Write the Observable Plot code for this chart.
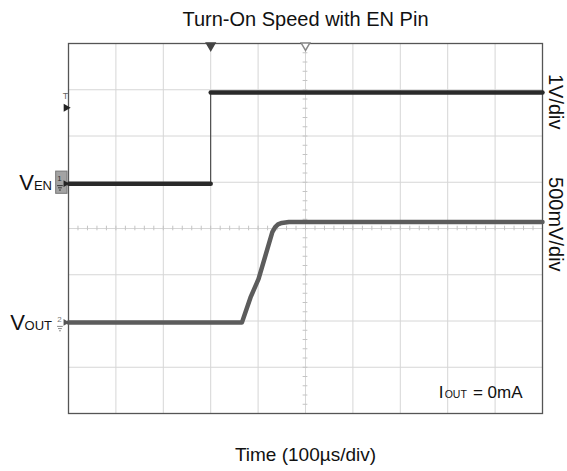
<!DOCTYPE html>
<html><head><meta charset="utf-8">
<script src="https://cdn.jsdelivr.net/npm/d3@7"></script>
<script src="https://cdn.jsdelivr.net/npm/@observablehq/plot@0.6"></script>
<style>body{margin:0;background:#fff;}</style>
</head><body><div id="chart"></div>
<script>
// ---- text ----
const title = "Turn-On Speed with EN Pin";
const xLabel = "Time (100µs/div)";
const enScaleLabel = "1V/div";
const voutScaleLabel = "500mV/div";
const ioutLabel = ["I", "OUT", "= 0mA"];

// ---- scope grid (time in µs, 100 µs/div; vertical in divisions) ----
const xGrid = [-300, -200, -100, 0, 100, 200, 300, 400, 500, 600, 700];
const yGrid = [0, 1, 2, 3, 4, 5, 6, 7, 8];
const xCenter = 200, yCenter = 4;
const xMinor = d3.range(-300, 701, 20);
const yMinor = d3.range(0, 8.01, 0.2);

// ---- channel 1: EN (1 V/div) ----
const enTime = [-300, 0, 0, 700];
const enVolt = [0, 0, 1.97, 1.97];
const enVPerDiv = 1, enOffset = 4.97;

// ---- channel 2: VOUT (500 mV/div) ----
const voutTime = [-300, 66, 84, 101, 130, 136, 142, 150, 165, 700];
const voutVolt = [0, 0, 0.27, 0.47, 0.975, 1.03, 1.06, 1.075, 1.085, 1.085];
const voutVPerDiv = 0.5, voutOffset = 1.97;

// trigger
const triggerTime = 0, triggerLevelDiv = 6.61;

const en = enTime.map((t, i) => ({t, v: enVolt[i]}));
const vout = voutTime.map((t, i) => ({t, v: voutVolt[i]}));
const enY = d => enOffset + d.v / enVPerDiv;
const voutY = d => voutOffset + d.v / voutVPerDiv;

const font = "Liberation Sans, Arial, Helvetica, sans-serif";

// small ground symbol drawn with three rules at a channel offset
const ground = (yDiv, dy, color) => [
  Plot.ruleY([yDiv], {x1: -323, x2: -311, dy: dy, stroke: color, strokeWidth: 1}),
  Plot.ruleY([yDiv], {x1: -321, x2: -313, dy: dy + 2.2, stroke: color, strokeWidth: 1}),
  Plot.ruleY([yDiv], {x1: -319, x2: -315, dy: dy + 4.4, stroke: color, strokeWidth: 1})
];

const chart = Plot.plot({
  width: 567, height: 471,
  marginLeft: 68, marginRight: 25, marginTop: 43, marginBottom: 58,
  style: {fontFamily: font, background: "#fff", color: "#111"},
  x: {domain: [-300, 700], axis: null},
  y: {domain: [0, 8], axis: null},
  marks: [
    Plot.ruleX(xGrid, {stroke: "#d6d6d6", strokeWidth: 1}),
    Plot.ruleY(yGrid, {stroke: "#d6d6d6", strokeWidth: 1}),
    Plot.ruleY(yMinor, {y: d => d, x1: xCenter - 5, x2: xCenter + 5, stroke: "#c4c4c4"}),
    Plot.ruleX(xMinor, {x: d => d, y1: yCenter - 0.05, y2: yCenter + 0.05, stroke: "#c4c4c4"}),
    Plot.frame({stroke: "#555", strokeWidth: 1.3}),
    // VOUT trace
    Plot.line(vout, {x: "t", y: voutY, stroke: "#5c5c5c", strokeWidth: 4.5, strokeLinejoin: "round"}),
    // EN trace: thin edge + thick levels
    Plot.line(en, {x: "t", y: enY, stroke: "#333", strokeWidth: 1}),
    Plot.line(en, {x: "t", y: enY, z: "v", stroke: "#2a2a2a", strokeWidth: 4.5}),
    // top markers: trigger position (filled) and center (open)
    Plot.dot([triggerTime], {x: d => d, y: 8, symbol: "triangle", rotate: 180, r: 3.2, fill: "#444", stroke: "#444", dy: 2}),
    Plot.dot([xCenter], {x: d => d, y: 8, symbol: "triangle", rotate: 180, r: 3.2, fill: "#fff", stroke: "#888", dy: 2}),
    // trigger level marker
    Plot.text(["T"], {x: -300, y: triggerLevelDiv, text: d => d, dx: -3, dy: -12, fontSize: 9, fill: "#666", textAnchor: "middle"}),
    Plot.dot([triggerLevelDiv], {x: -300, y: d => d, symbol: "triangle", rotate: 90, r: 3, fill: "#222", dx: -2.5}),
    // channel 1 marker box
    Plot.rect([0], {x1: -326, x2: -302, y1: enOffset - 0.22, y2: enOffset + 0.26, fill: "#a3a3a3", stroke: "#777"}),
    Plot.text(["1"], {x: -300, y: enOffset, text: d => d, dx: -9, dy: -5, fontSize: 8, fill: "#333", textAnchor: "middle"}),
    ...ground(enOffset, 2, "#333"),
    Plot.dot([0], {x: -300, y: enOffset, symbol: "triangle", rotate: 90, r: 2.5, fill: "#222", dx: -3}),
    // channel 2 marker
    Plot.text(["2"], {x: -300, y: voutOffset, text: d => d, dx: -9, dy: -3, fontSize: 8, fill: "#777", textAnchor: "middle"}),
    ...ground(voutOffset, 4, "#888"),
    Plot.dot([0], {x: -300, y: voutOffset, symbol: "triangle", rotate: 90, r: 2.5, fill: "#555", dx: -3}),
    // channel labels
    Plot.text(["V"], {x: -300, y: enOffset, text: d => d, dx: -34.5, dy: 6, lineAnchor: "bottom", textAnchor: "end", fontSize: 22, fill: "#111"}),
    Plot.text(["EN"], {x: -300, y: enOffset, text: d => d, dx: -16.5, dy: 6, lineAnchor: "bottom", textAnchor: "end", fontSize: 13, fill: "#111"}),
    Plot.text(["V"], {x: -300, y: voutOffset, text: d => d, dx: -43.5, dy: 8, lineAnchor: "bottom", textAnchor: "end", fontSize: 22, fill: "#111"}),
    Plot.text(["OUT"], {x: -300, y: voutOffset, text: d => d, dx: -16.5, dy: 8, lineAnchor: "bottom", textAnchor: "end", fontSize: 13, fill: "#111"}),
    // V/div labels
    Plot.text([enScaleLabel], {x: 700, y: 6.74, text: d => d, dx: 13, rotate: 90, fontSize: 20, fill: "#111"}),
    Plot.text([voutScaleLabel], {x: 700, y: 4.09, text: d => d, dx: 13, rotate: 90, fontSize: 20, fill: "#111"}),
    // IOUT label
    Plot.text([ioutLabel[0]], {x: 481, y: 0, text: d => d, dy: -16, lineAnchor: "bottom", textAnchor: "start", fontSize: 17, fill: "#111"}),
    Plot.text([ioutLabel[1]], {x: 481, y: 0, text: d => d, dx: 6, dy: -16, lineAnchor: "bottom", textAnchor: "start", fontSize: 10.5, fill: "#111"}),
    Plot.text([ioutLabel[2]], {x: 700, y: 0, text: d => d, dx: -20, dy: -16, lineAnchor: "bottom", textAnchor: "end", fontSize: 17, fill: "#111"}),
    // title and x label
    Plot.text([title], {frameAnchor: "top", text: d => d, dy: -18, lineAnchor: "bottom", fontSize: 20, fill: "#111"}),
    Plot.text([xLabel], {frameAnchor: "bottom", text: d => d, dy: 47, lineAnchor: "bottom", fontSize: 19, fill: "#111"})
  ]
});
document.getElementById("chart").appendChild(chart);
</script>
</body></html>
